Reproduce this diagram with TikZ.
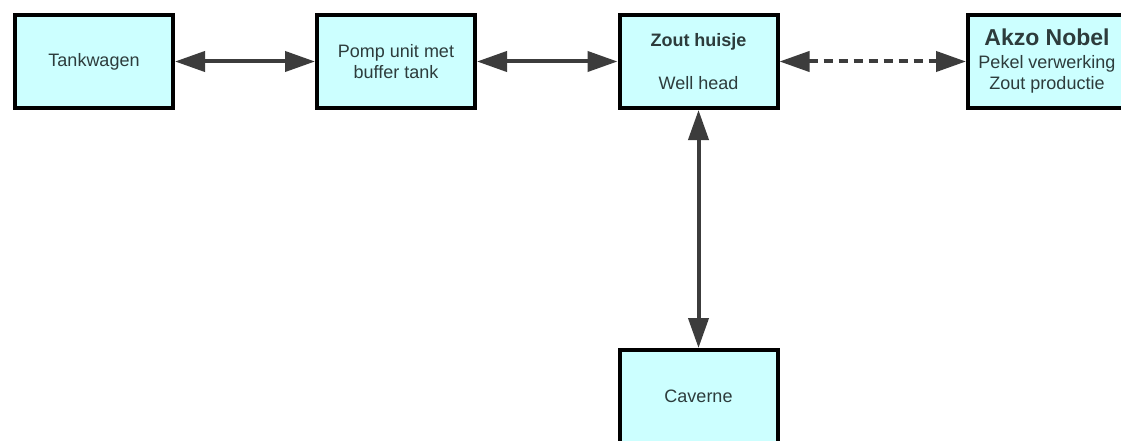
\documentclass[tikz,border=0pt]{standalone}
\usepackage{fontspec}
\setmainfont{Liberation Sans}
\usetikzlibrary{arrows.meta}
\definecolor{boxfill}{RGB}{204,255,255}
\definecolor{txt}{RGB}{45,60,60}
\definecolor{arr}{RGB}{60,60,60}
\tikzset{
  box/.style={draw=black, line width=4pt, fill=boxfill, minimum width=158pt, minimum height=93pt,
    inner sep=0pt, text=txt, align=center, font=\fontsize{18}{21}\selectfont},
  link/.style={draw=arr, line width=4pt, {Triangle[length=30pt,width=20pt]}-{Triangle[length=30pt,width=20pt]}},
  dlink/.style={link, dash pattern=on 9pt off 6pt},
}
\begin{document}
\begin{tikzpicture}[x=1pt,y=-1pt]
\clip (0,0) rectangle (1121,441);
\fill[white] (0,0) rectangle (1121,441);
\node[box] (tank) at (94,61.5) {Tankwagen};
\node[box] (pomp) at (396,61.5) {Pomp unit met\\buffer tank};
\node[box] (zout) at (698.5,61.5) {\textbf{Zout huisje}\\[22pt]Well head};
\node[box] (akzo) at (1047,61.5) {{\fontsize{23}{26}\selectfont\textbf{Akzo Nobel}}\\[2pt]Pekel verwerking\\Zout productie};
\node[box] (cav) at (698.5,396.5) {Caverne};
\draw[link] (tank) -- (pomp);
\draw[link] (pomp) -- (zout);
\draw[dlink] (zout) -- (akzo);
\draw[link] (zout) -- (cav);
\end{tikzpicture}
\end{document}
